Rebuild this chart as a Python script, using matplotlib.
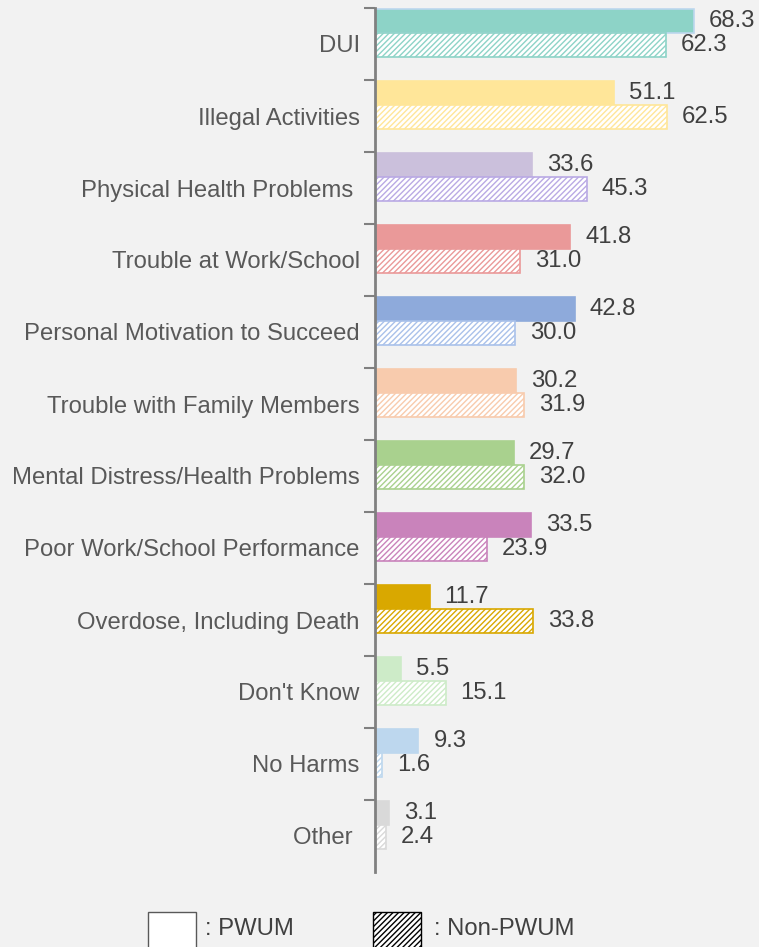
import numpy as np
import matplotlib.pyplot as plt
from matplotlib.patches import Rectangle

plt.rcParams['font.family'] = ['Liberation Sans', 'DejaVu Sans']
plt.rcParams['hatch.linewidth'] = 1.0

categories = ['DUI', 'Illegal Activities', 'Physical Health Problems ',
              'Trouble at Work/School', 'Personal Motivation to Succeed',
              'Trouble with Family Members', 'Mental Distress/Health Problems',
              'Poor Work/School Performance', 'Overdose, Including Death',
              "Don't Know", 'No Harms', 'Other ']
pwum = [68.3, 51.1, 33.6, 41.8, 42.8, 30.2, 29.7, 33.5, 11.7, 5.5, 9.3, 3.1]
non_pwum = [62.3, 62.5, 45.3, 31.0, 30.0, 31.9, 32.0, 23.9, 33.8, 15.1, 1.6, 2.4]
colors = ['#8dd3c7', '#ffe699', '#cbc0dc', '#ea9999', '#8eaadb', '#f8cbad',
          '#a9d18e', '#c983bb', '#d9a800', '#cdebc8', '#bdd7ee', '#d9d9d9']
hatch_colors = ['#8dd3c7', '#ffe699', '#b9a9e4', '#ea9999', '#a9c1ea', '#f8cbad',
                '#a9d18e', '#c983bb', '#d9a800', '#cdebc8', '#bdd7ee', '#d9d9d9']

bg = '#f2f2f2'
fs = 17.2
fig = plt.figure(figsize=(7.59, 9.47), dpi=100, facecolor=bg)
ax = fig.add_axes([375 / 759, 1 - 872 / 947, 384 / 759, 864 / 947])
ax.set_facecolor(bg)

n = len(categories)
pos = np.arange(n)
h = 24 / 72
y1 = pos + 13 / 72
y2 = pos + 37 / 72

for i in range(n):
    ec = '#bdd7ee' if i == 0 else colors[i]
    ax.barh(y1[i], pwum[i], height=h, color=colors[i], edgecolor=ec, linewidth=1.2)
    ax.barh(y2[i], non_pwum[i], height=h, facecolor='white', edgecolor=hatch_colors[i],
            hatch='//////', linewidth=1.2)
    ax.text(pwum[i] + 3.2, y1[i], f'{pwum[i]:.1f}', va='center', ha='left',
            fontsize=fs, color='#404040')
    ax.text(non_pwum[i] + 3.2, y2[i], f'{non_pwum[i]:.1f}', va='center', ha='left',
            fontsize=fs, color='#404040')

ax.set_xlim(0, 82.2)
ax.set_ylim(n, 0)
ax.set_xticks([])
for s in ['top', 'right', 'bottom']:
    ax.spines[s].set_visible(False)
ax.spines['left'].set_color('#808080')
ax.spines['left'].set_linewidth(2)

ax.set_yticks(pos)
ax.set_yticklabels([])
ax.tick_params(axis='y', which='major', length=8, width=1.5, color='#808080')
ax.set_yticks(pos + 0.5, minor=True)
ax.set_yticklabels(categories, minor=True, fontsize=fs, color='#595959')
ax.tick_params(axis='y', which='minor', length=0, pad=11)

# legend boxes along the bottom
W, H = 759, 947
fig.add_artist(Rectangle((148 / W, 1 - 960 / H), 48 / W, 48 / H, transform=fig.transFigure,
                         facecolor='white', edgecolor='#595959', linewidth=1))
fig.add_artist(Rectangle((373 / W, 1 - 960 / H), 48 / W, 48 / H, transform=fig.transFigure,
                         facecolor='white', edgecolor='black', hatch='//////', linewidth=1))
fig.text(205 / W, 1 - 929 / H, ': PWUM', fontsize=fs, color='#404040', va='center')
fig.text(434 / W, 1 - 929 / H, ': Non-PWUM', fontsize=fs, color='#404040', va='center')

fig.savefig('out.png', dpi=100, facecolor=bg)
